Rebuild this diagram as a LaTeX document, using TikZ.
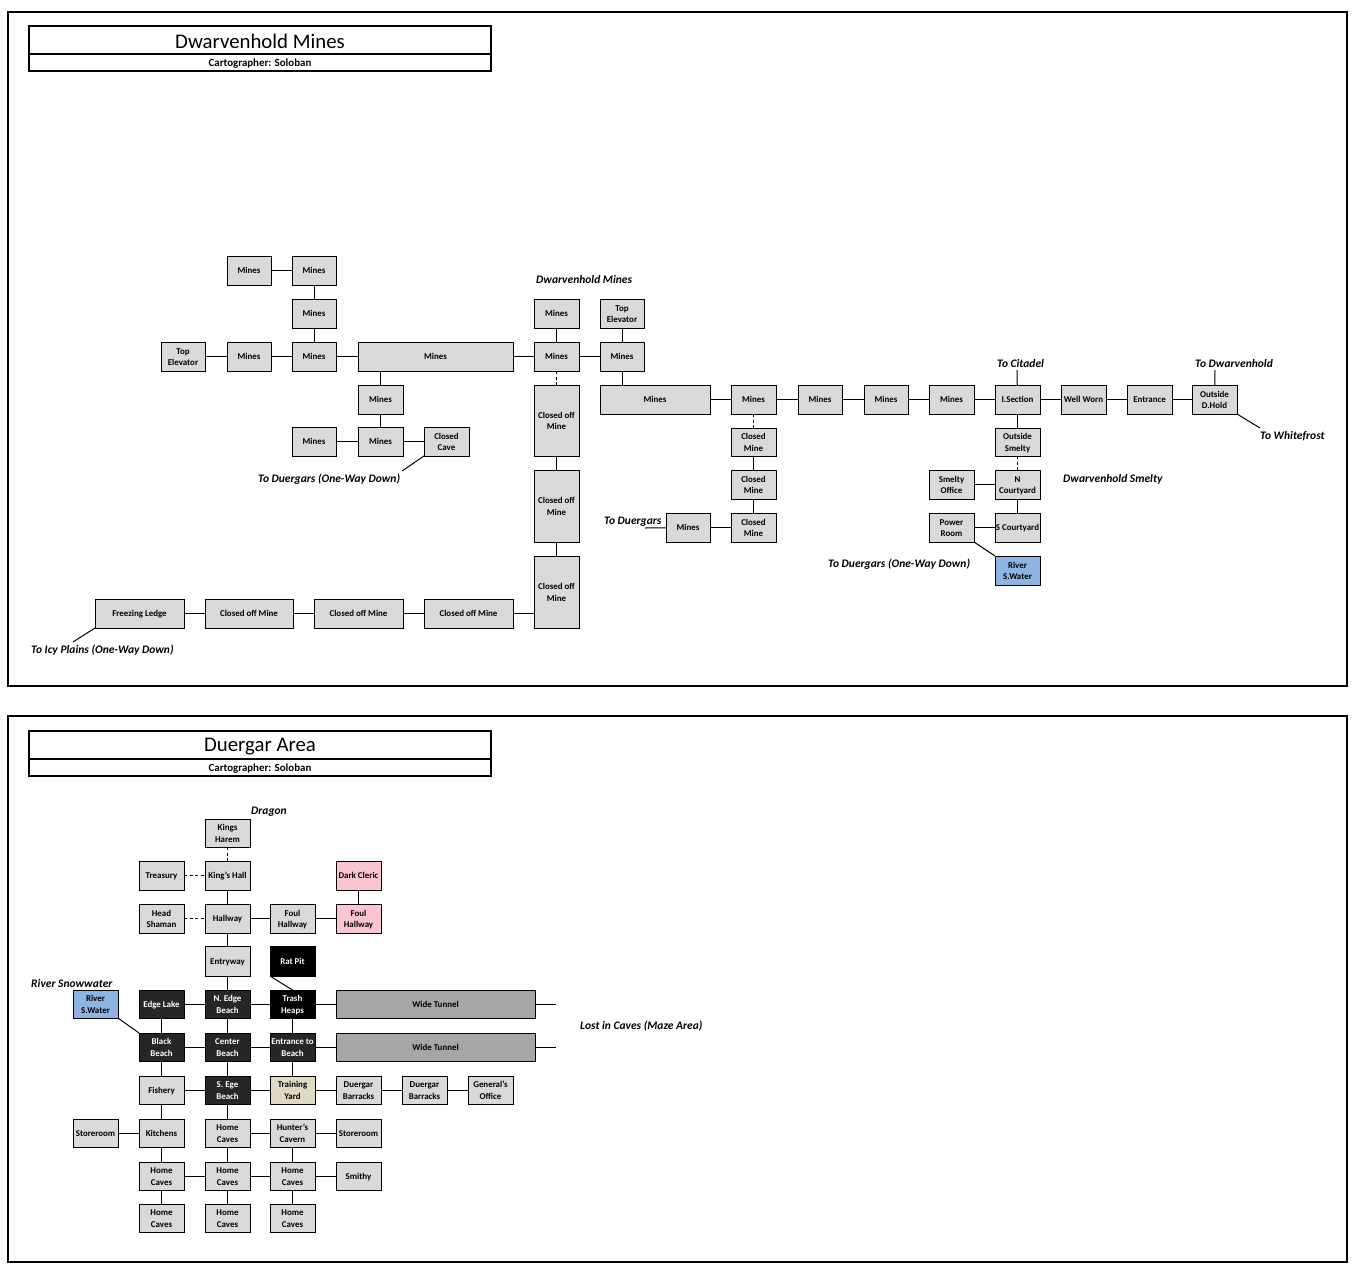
\documentclass[tikz,border=0pt]{standalone}
\usepackage{fontspec}
\setmainfont{Carlito}
\definecolor{roomgrey}{HTML}{D9D9D9}
\definecolor{beach}{HTML}{262626}
\definecolor{tunnel}{HTML}{A6A6A6}
\definecolor{river}{HTML}{8EB4E3}
\definecolor{cleric}{HTML}{FAC5D0}
\definecolor{yard}{HTML}{DDD9C3}
\tikzset{
  room/.style={draw=black,line width=1pt,fill=roomgrey,inner sep=0pt,outer sep=0pt,
    font=\fontsize{8.9}{11.6}\selectfont\bfseries},
  dark/.style={fill=beach,text=white},
  blackroom/.style={fill=black,text=white},
  wide/.style={fill=tunnel},
  water/.style={fill=river},
  pink/.style={fill=cleric},
  sand/.style={fill=yard},
  frame/.style={draw=black,line width=2pt},
  titlebox/.style={draw=black,line width=2pt,inner sep=0pt,outer sep=0pt,minimum width=462pt,align=center},
  link/.style={draw=black,line width=1pt},
  hidden/.style={link,dashed,dash pattern=on 3pt off 2.5pt},
  note/.style={inner sep=0pt,font=\fontsize{11.5}{12}\selectfont\bfseries\itshape,anchor=west,yshift=-1pt},
}
\newcommand{\dropped}[2]{\raisebox{-#1pt}[\height][\depth]{#2}}
\newcommand{\rn}[7][]{%
  \pgfmathsetmacro\cxx{(#3+#4)/2}\pgfmathsetmacro\cyy{(#5+#6)/2}%
  \pgfmathsetmacro\ww{#4-#3}\pgfmathsetmacro\hh{#6-#5}%
  \node[room,#1,minimum width=\ww pt,minimum height=\hh pt] (#2) at (\cxx,\cyy)
    {\dropped{1}{\begin{tabular}{@{}c@{}}#7\end{tabular}}};}
\begin{document}
\begin{tikzpicture}[x=1pt,y=-1pt]
\useasboundingbox (0,0) rectangle (1369,1277);
\fill[white] (0,0) rectangle (1369,1277);
\draw[frame] (8,12) rectangle (1347,686);
\draw[frame] (8,716) rectangle (1347,1262);
% ---- titles
\node[titlebox,minimum height=28.5pt,font=\fontsize{20.8}{22}\selectfont] (title1) at (260,40) {\dropped{1.5}{Dwarvenhold Mines}};
\node[titlebox,minimum height=16.5pt,font=\fontsize{10.9}{11}\selectfont\bfseries] (sub1) at (260,62.5) {\dropped{1}{Cartographer: Soloban}};
\node[titlebox,minimum height=28.5pt,font=\fontsize{20.8}{22}\selectfont] (title2) at (260,745) {\dropped{1.5}{Duergar Area}};
\node[titlebox,minimum height=16.5pt,font=\fontsize{10.9}{11}\selectfont\bfseries] (sub2) at (260,767.5) {\dropped{1}{Cartographer: Soloban}};
% ---- Dwarvenhold Mines: rooms
\rn{a1}{227}{271}{256}{285}{Mines}
\rn{a2}{292}{336}{256}{285}{Mines}
\rn{a3}{292}{336}{299}{328}{Mines}
\rn{te1}{161}{205}{342}{371}{Top\\Elevator}
\rn{a4}{227}{271}{342}{371}{Mines}
\rn{a5}{292}{336}{342}{371}{Mines}
\rn{a6}{358}{513}{342}{371}{Mines}
\rn{a7}{358}{403}{385}{414}{Mines}
\rn{a8}{292}{336}{427}{456}{Mines}
\rn{a9}{358}{403}{427}{456}{Mines}
\rn{cc}{424}{469}{427}{456}{Closed\\Cave}
\rn{b1}{534}{579}{299}{328}{Mines}
\rn{b2}{534}{579}{342}{371}{Mines}
\rn{co1}{534}{579}{385}{456}{Closed off\\Mine}
\rn{co2}{534}{579}{470}{542}{Closed off\\Mine}
\rn{co3}{534}{579}{556}{628}{Closed off\\Mine}
\rn{co4}{424}{513}{599}{628}{Closed off Mine}
\rn{co5}{314}{403}{599}{628}{Closed off Mine}
\rn{co6}{205}{293}{599}{628}{Closed off Mine}
\rn{fl}{95}{184}{599}{628}{Freezing Ledge}
\rn{te2}{600}{644}{299}{328}{Top\\Elevator}
\rn{c1}{600}{644}{342}{371}{Mines}
\rn{c2}{600}{710}{385}{414}{Mines}
\rn{c3}{731}{776}{385}{414}{Mines}
\rn{c4}{798}{842}{385}{414}{Mines}
\rn{c5}{864}{908}{385}{414}{Mines}
\rn{c6}{929}{974}{385}{414}{Mines}
\rn{is}{995}{1040}{385}{414}{I.Section}
\rn{ww}{1061}{1106}{385}{414}{Well Worn}
\rn{en}{1127}{1172}{385}{414}{Entrance}
\rn{od}{1192}{1237}{385}{414}{Outside\\D.Hold}
\rn{cm1}{731}{776}{428}{456}{Closed\\Mine}
\rn{cm2}{731}{776}{470}{499}{Closed\\Mine}
\rn{cm3}{731}{776}{513}{542}{Closed\\Mine}
\rn{d1}{666}{710}{513}{542}{Mines}
\rn{os}{995}{1040}{428}{456}{Outside\\Smelty}
\rn{nc}{995}{1040}{470}{499}{N\\Courtyard}
\rn{so}{929}{974}{470}{499}{Smelty\\Office}
\rn{sc}{995}{1040}{513}{542}{S Courtyard}
\rn{pr}{929}{974}{513}{542}{Power\\Room}
\rn[water]{rv1}{995}{1040}{556}{585}{River\\S.Water}
% ---- Dwarvenhold Mines: free ends
\coordinate (fCit) at (1017,370);
\coordinate (fDw) at (1215,370);
\coordinate (fWh) at (1260,428);
\coordinate (fDu1) at (402,471);
\coordinate (fIcy) at (73,642);
\coordinate (fDu2) at (645,528);
% ---- Dwarvenhold Mines: links
\draw[link] (a1) -- (a2);
\draw[link] (a2) -- (a3);
\draw[link] (a3) -- (a5);
\draw[link] (te1) -- (a4);
\draw[link] (a4) -- (a5);
\draw[link] (a5) -- (a6);
\draw[link] (a6) -- (b2);
\draw[link] (a6.south -| a7.north) -- (a7.north);
\draw[link] (a7) -- (a9);
\draw[link] (a8) -- (a9);
\draw[link] (a9) -- (cc);
\draw[link] (cc.south west) -- (fDu1);
\draw[link] (b1) -- (b2);
\draw[link] (b2) -- (c1);
\draw[hidden] (b2) -- (co1);
\draw[link] (co1) -- (co2);
\draw[link] (co2) -- (co3);
\draw[link] (co4.east) -- (co3.west |- co4.east);
\draw[link] (co5) -- (co4);
\draw[link] (co6) -- (co5);
\draw[link] (fl) -- (co6);
\draw[link] (fl.south west) -- (fIcy);
\draw[link] (te2) -- (c1);
\draw[link] (c1.south) -- (c2.north -| c1.south);
\draw[link] (c2) -- (c3);
\draw[link] (c3) -- (c4);
\draw[link] (c4) -- (c5);
\draw[link] (c5) -- (c6);
\draw[link] (c6) -- (is);
\draw[link] (is) -- (ww);
\draw[link] (ww) -- (en);
\draw[link] (en) -- (od);
\draw[link] (is) -- (fCit);
\draw[link] (od) -- (fDw);
\draw[link] (od.south east) -- (fWh);
\draw[hidden] (c3) -- (cm1);
\draw[link] (cm1) -- (cm2);
\draw[link] (cm2) -- (cm3);
\draw[link] (d1) -- (cm3);
\draw[link] (d1) -- (fDu2);
\draw[link] (is) -- (os);
\draw[hidden] (os) -- (nc);
\draw[link] (so) -- (nc);
\draw[link] (nc) -- (sc);
\draw[link] (pr) -- (sc);
\draw[link] (pr.south east) -- (rv1.north west);
% ---- Dwarvenhold Mines: labels
\node[note] (l1) at (536,279) {Dwarvenhold Mines};
\node[note] (l2) at (258,478) {To Duergars (One-Way Down)};
\node[note] (l3) at (31,649) {To Icy Plains (One-Way Down)};
\node[note] (l4) at (604,521) {To Duergars};
\node[note] (l5) at (828,563) {To Duergars (One-Way Down)};
\node[note] (l6) at (1063,478) {Dwarvenhold Smelty};
\node[note] (l7) at (997,363) {To Citadel};
\node[note] (l8) at (1195,363) {To Dwarvenhold};
\node[note] (l9) at (1260,435) {To Whitefrost};
% ---- Duergar Area: rooms
\rn{kh}{205}{250}{819}{847}{Kings\\Harem}
\rn{tr}{139}{184}{861}{890}{Treasury}
\rn{kg}{205}{250}{861}{890}{King's Hall}
\rn[pink]{dc}{336}{381}{861}{890}{Dark Cleric}
\rn{hs}{139}{184}{904}{933}{Head\\Shaman}
\rn{hw}{205}{250}{904}{933}{Hallway}
\rn{fh1}{270}{315}{904}{933}{Foul\\Hallway}
\rn[pink]{fh2}{336}{381}{904}{933}{Foul\\Hallway}
\rn{ey}{205}{250}{946}{976}{Entryway}
\rn[blackroom]{rp}{270}{315}{946}{976}{Rat Pit}
\rn[water]{rv2}{73}{118}{990}{1018}{River\\S.Water}
\rn[dark]{el}{139}{184}{990}{1018}{Edge Lake}
\rn[dark]{ne}{205}{250}{990}{1018}{N. Edge\\Beach}
\rn[blackroom]{th}{270}{315}{990}{1018}{Trash\\Heaps}
\rn[wide]{wt1}{336}{535}{990}{1018}{Wide Tunnel}
\rn[dark]{bb}{139}{184}{1033}{1061}{Black\\Beach}
\rn[dark]{cb}{205}{250}{1033}{1061}{Center\\Beach}
\rn[dark]{eb}{270}{315}{1033}{1061}{Entrance to\\Beach}
\rn[wide]{wt2}{336}{535}{1033}{1061}{Wide Tunnel}
\rn{fi}{139}{184}{1076}{1104}{Fishery}
\rn[dark]{se}{205}{250}{1076}{1104}{S. Ege\\Beach}
\rn[sand]{ty}{270}{315}{1076}{1104}{Training\\Yard}
\rn{db1}{336}{381}{1076}{1104}{Duergar\\Barracks}
\rn{db2}{402}{447}{1076}{1104}{Duergar\\Barracks}
\rn{go}{468}{513}{1076}{1104}{General's\\Office}
\rn{st1}{73}{118}{1119}{1147}{Storeroom}
\rn{ki}{139}{184}{1119}{1147}{Kitchens}
\rn{hc1}{205}{250}{1119}{1147}{Home\\Caves}
\rn{hu}{270}{315}{1119}{1147}{Hunter's\\Cavern}
\rn{st2}{336}{381}{1119}{1147}{Storeroom}
\rn{hc2}{139}{184}{1162}{1190}{Home\\Caves}
\rn{hc3}{205}{250}{1162}{1190}{Home\\Caves}
\rn{hc4}{270}{315}{1162}{1190}{Home\\Caves}
\rn{sm}{336}{381}{1162}{1190}{Smithy}
\rn{hc5}{139}{184}{1204}{1232}{Home\\Caves}
\rn{hc6}{205}{250}{1204}{1232}{Home\\Caves}
\rn{hc7}{270}{315}{1204}{1232}{Home\\Caves}
% ---- Duergar Area: free ends
\coordinate (fW1) at (556,1004);
\coordinate (fW2) at (556,1047);
% ---- Duergar Area: links
\draw[hidden] (kh) -- (kg);
\draw[hidden] (tr) -- (kg);
\draw[link] (kg) -- (hw);
\draw[link] (dc) -- (fh2);
\draw[hidden] (hs) -- (hw);
\draw[link] (hw) -- (fh1);
\draw[link] (fh1) -- (fh2);
\draw[link] (hw) -- (ey);
\draw[link] (ey) -- (ne);
\draw[link] (rp.south west) -- (th.north);
\draw[link] (rv2.south east) -- (bb.north west);
\draw[link] (el) -- (ne);
\draw[link] (ne) -- (th);
\draw[link] (th) -- (wt1);
\draw[link] (wt1) -- (fW1);
\draw[link] (el) -- (bb);
\draw[link] (ne) -- (cb);
\draw[link] (th) -- (eb);
\draw[link] (bb) -- (cb);
\draw[link] (cb) -- (eb);
\draw[link] (eb) -- (wt2);
\draw[link] (wt2) -- (fW2);
\draw[link] (bb) -- (fi);
\draw[link] (cb) -- (se);
\draw[link] (eb) -- (ty);
\draw[link] (fi) -- (se);
\draw[link] (se) -- (ty);
\draw[link] (ty) -- (db1);
\draw[link] (db1) -- (db2);
\draw[link] (db2) -- (go);
\draw[link] (fi) -- (ki);
\draw[link] (se) -- (hc1);
\draw[link] (st1) -- (ki);
\draw[link] (hc1) -- (hu);
\draw[link] (hu) -- (st2);
\draw[link] (ki) -- (hc2);
\draw[link] (hc1) -- (hc3);
\draw[link] (hu) -- (hc4);
\draw[link] (hc2) -- (hc3);
\draw[link] (hc3) -- (hc4);
\draw[link] (hc4) -- (sm);
\draw[link] (hc2) -- (hc5);
\draw[link] (hc3) -- (hc6);
\draw[link] (hc4) -- (hc7);
% ---- Duergar Area: labels
\node[note] (l10) at (251,811) {Dragon};
\node[note] (l11) at (31,982) {River Snowwater};
\node[note] (l12) at (580,1025) {Lost in Caves (Maze Area)};
\end{tikzpicture}
\end{document}
